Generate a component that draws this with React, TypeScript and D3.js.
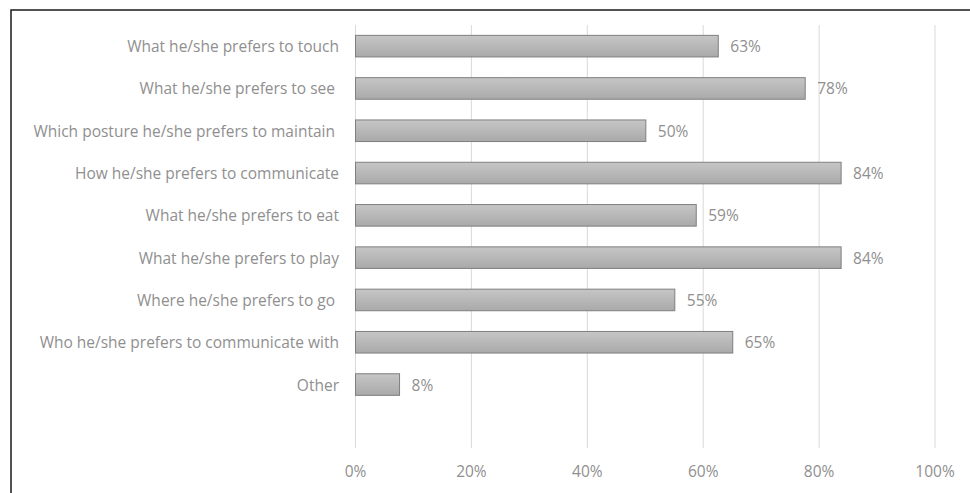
import React from "react";
import * as d3 from "d3";

const categories = [
  "What he/she prefers to touch",
  "What he/she prefers to see ",
  "Which posture he/she prefers to maintain ",
  "How he/she prefers to communicate",
  "What he/she prefers to eat",
  "What he/she prefers to play",
  "Where he/she prefers to go ",
  "Who he/she prefers to communicate with",
  "Other",
];
const values = [0.626, 0.776, 0.501, 0.838, 0.588, 0.838, 0.551, 0.651, 0.076];
const xTicks = [0, 0.2, 0.4, 0.6, 0.8, 1.0];

const W = 970;
const H = 493;
const plotLeft = 355.5;
const plotRight = 935;
const plotTop = 25;
const plotBottom = 448;
const FONT = "'Open Sans', sans-serif";
const FS = 15.5;
const TEXT = "#8f8f8f";

export default function App() {
  const x = d3.scaleLinear().domain([0, 1]).range([plotLeft, plotRight]);
  const step = (plotBottom - plotTop) / (categories.length + 1);
  const y = d3
    .scaleBand<string>()
    .domain(categories)
    .range([plotTop, plotTop + step * categories.length])
    .padding(0);
  const barH = step * 0.51;
  const fmt = d3.format(".0%");

  return (
    <svg
      width={W}
      height={H}
      style={{ position: "absolute", left: 0, top: 0, background: "#fff" }}
    >
      <defs>
        <linearGradient id="barGrad" x1="0" y1="0" x2="0" y2="1">
          <stop offset="0%" stopColor="#c6c6c6" />
          <stop offset="100%" stopColor="#a9a9a9" />
        </linearGradient>
      </defs>
      <rect x={0} y={0} width={W} height={H} fill="#fff" />
      <rect
        x={11}
        y={10}
        width={1200}
        height={1200}
        fill="none"
        stroke="#1a1a1a"
        strokeWidth={1.5}
      />
      {xTicks.map((t) => (
        <g key={t}>
          <line
            x1={x(t)}
            x2={x(t)}
            y1={plotTop}
            y2={plotBottom}
            stroke="#d9d9d9"
            strokeWidth={1}
          />
          <text
            x={x(t)}
            y={471}
            textAnchor="middle"
            dominantBaseline="central"
            fontFamily={FONT}
            fontSize={FS}
            fill={TEXT}
          >
            {fmt(t)}
          </text>
        </g>
      ))}
      {categories.map((c, i) => {
        const cy = (y(c) as number) + step / 2;
        return (
          <g key={c}>
            <rect
              x={x(0)}
              y={cy - barH / 2}
              width={x(values[i]) - x(0)}
              height={barH}
              fill="url(#barGrad)"
              stroke="#7f7f7f"
              strokeWidth={1}
            />
            <text
              x={339}
              y={cy}
              textAnchor="end"
              dominantBaseline="central"
              fontFamily={FONT}
              fontSize={FS}
              fill={TEXT}
              style={{ whiteSpace: "pre" }}
            >
              {c}
            </text>
            <text
              x={x(values[i]) + 12}
              y={cy}
              dominantBaseline="central"
              fontFamily={FONT}
              fontSize={FS}
              fill={TEXT}
            >
              {fmt(values[i])}
            </text>
          </g>
        );
      })}
    </svg>
  );
}
